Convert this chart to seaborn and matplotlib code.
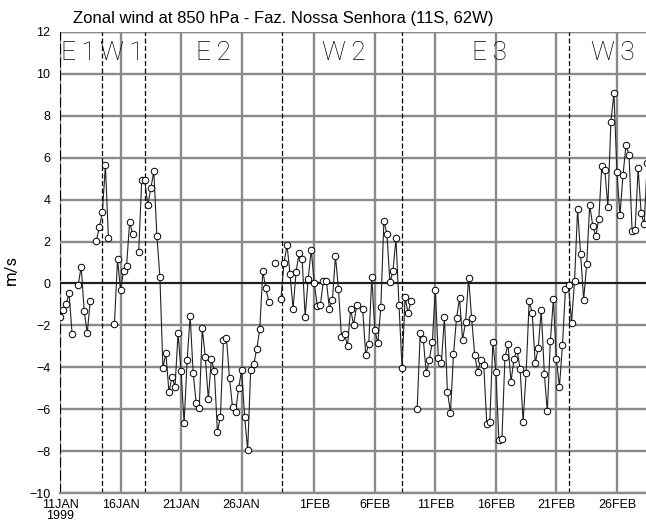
import numpy as np
import pandas as pd
import matplotlib
matplotlib.use("Agg")
import matplotlib.pyplot as plt
import seaborn as sns

# 6-hourly zonal wind (m/s) from 11 Jan 1999 00Z, nan = missing
start = "1999-01-11"
wind = [
    -1.59, -1.27, -0.98, -0.47, -2.42, np.nan, -0.08, 0.80, -1.33, -2.37,
    -0.82, np.nan, 2.04, 2.69, 3.41, 5.64, 2.15, np.nan, -1.92, 1.15,
    -0.31, 0.59, 0.85, 2.93, 2.37, np.nan, 1.50, 4.95, 4.92, 3.74,
    4.54, 5.35, 2.28, 0.32, -4.02, -3.34, -5.20, -4.45, -4.93, -2.38,
    -4.20, -6.68, -3.66, -1.57, -4.28, -5.72, -5.96, -2.14, -3.50, -5.53,
    -3.62, -4.18, -7.08, -6.36, -2.72, -2.61, -4.52, -5.90, -6.14, -5.01,
    -4.13, -6.36, -7.95, -4.13, -3.86, -3.13, -2.18, 0.59, -0.24, -0.87,
    np.nan, 0.99, np.nan, -0.73, 0.97, 1.83, 0.45, -1.21, 0.56, 1.47,
    1.15, -1.59, 0.23, 1.61, 0.00, -1.06, -1.05, 0.11, 0.13, -1.21,
    -0.79, 1.31, -0.27, -2.57, -2.43, -2.97, -1.21, -1.99, -1.05, np.nan,
    -1.24, -3.41, -2.89, 0.29, -2.20, -2.86, -1.12, 2.99, 2.37, 0.05,
    0.59, 2.15, -1.04, -4.02, -0.67, -1.42, -0.82, np.nan, -6.00, -2.38,
    -2.63, -4.29, -3.63, -2.81, -0.29, -3.56, -3.78, -1.62, -5.17, -6.16,
    -3.38, -1.65, -0.71, -2.68, -1.84, 0.27, -1.67, -3.40, -4.21, -3.67,
    -3.90, -6.70, -6.59, -2.81, -4.21, -7.49, -7.43, -3.52, -2.90, -4.68,
    -3.59, -3.19, -4.06, -6.59, -4.25, -0.84, -1.40, -3.81, -3.08, -1.25,
    -4.30, -6.11, -2.75, -0.76, -3.62, -4.94, -2.94, -0.25, -0.08, -1.87,
    0.13, 3.54, 1.39, -0.78, 0.91, 3.74, 2.76, 2.26, 3.06, 5.62,
    5.41, 3.66, 7.72, 9.07, 5.32, 3.25, 5.19, 6.59, 6.13, 2.52,
    2.55, 5.49, 3.35, 2.82, 5.76,
]

# regime boundaries and names
boundaries = ["1999-01-14 12:00", "1999-01-18 00:00", "1999-01-29 08:00",
              "1999-02-08 06:00", "1999-02-22 01:30"]
regimes = ["E\u20091", "W\u20091", "E\u20092", "W\u20092", "E\u20093", "W\u20093"]
regime_days = [1.49, 5.08, 12.71, 23.44, 35.49, 45.65]

tick_dates = ["1999-01-11", "1999-01-16", "1999-01-21", "1999-01-26", "1999-02-01",
              "1999-02-06", "1999-02-11", "1999-02-16", "1999-02-21", "1999-02-26"]
tick_labels = ["11JAN\n1999", "16JAN", "21JAN", "26JAN", "1FEB",
               "6FEB", "11FEB", "16FEB", "21FEB", "26FEB"]

df = pd.DataFrame({
    "time": pd.date_range(start, periods=len(wind), freq="6h"),
    "u": wind,
})
df["seg"] = df["u"].isna().cumsum()
valid = df.dropna()

sns.set_theme(style="white")
plt.rcParams["font.family"] = ["Liberation Sans", "DejaVu Sans"]

fig = plt.figure(figsize=(6.46, 5.29), dpi=100)
ax = fig.add_axes([60 / 646, 36 / 529, 1 - 60 / 646, 461 / 529])

t0 = pd.Timestamp(start)
ax.set_xlim(t0, t0 + pd.Timedelta(days=48.4))
ax.set_ylim(-10, 12)

ax.set_yticks(range(-10, 13, 2))
ax.set_xticks(pd.to_datetime(tick_dates))
ax.set_xticklabels(tick_labels, fontsize=9, linespacing=0.95)
ax.tick_params(axis="y", labelsize=9, length=4, color="#555555", pad=3,
               labelcolor="black")
ax.tick_params(axis="x", length=0, pad=4, labelcolor="black")

grid_c = "#8a8a8a"
ax.grid(True, color=grid_c, lw=1.7)
ax.set_axisbelow(True)
for s in ["top", "right"]:
    ax.spines[s].set_visible(False)
ax.spines["bottom"].set_color(grid_c)
ax.spines["bottom"].set_linewidth(1.7)
ax.spines["left"].set_color("black")
ax.spines["left"].set_linewidth(0.8)
ax.spines["left"].set_linestyle((0, (8, 4)))
ax.axhline(12, color=grid_c, lw=1.7, zorder=1)

ax.axhline(0, color="black", lw=1.1, zorder=2)
for b in boundaries:
    ax.axvline(pd.Timestamp(b), color="black", lw=0.9, ls=(0, (4, 2)), zorder=2)

sns.lineplot(data=valid, x="time", y="u", units="seg", estimator=None,
             color="#222222", lw=0.8, ax=ax, zorder=3)
sns.scatterplot(data=valid, x="time", y="u", s=22, facecolor="white",
                edgecolor="black", linewidth=0.7, ax=ax, zorder=4)

for name, d in zip(regimes, regime_days):
    ax.text(t0 + pd.Timedelta(days=d), 11.0, name, ha="center", va="center",
            fontsize=19, color="black", fontweight="light",
            family=["Roboto", "DejaVu Sans"])

ax.set_xlabel("")
ax.set_ylabel("m/s", fontsize=12, family=["Roboto", "DejaVu Sans"],
              color="black")
ax.yaxis.set_label_coords(-41 / 586, 0.484)

fig.text(73 / 646, 1 - 23.5 / 529, "Zonal wind at 850 hPa - Faz. Nossa Senhora (11S, 62W)",
         fontsize=12, ha="left", va="baseline", color="black")

fig.savefig("out.png", dpi=100)
